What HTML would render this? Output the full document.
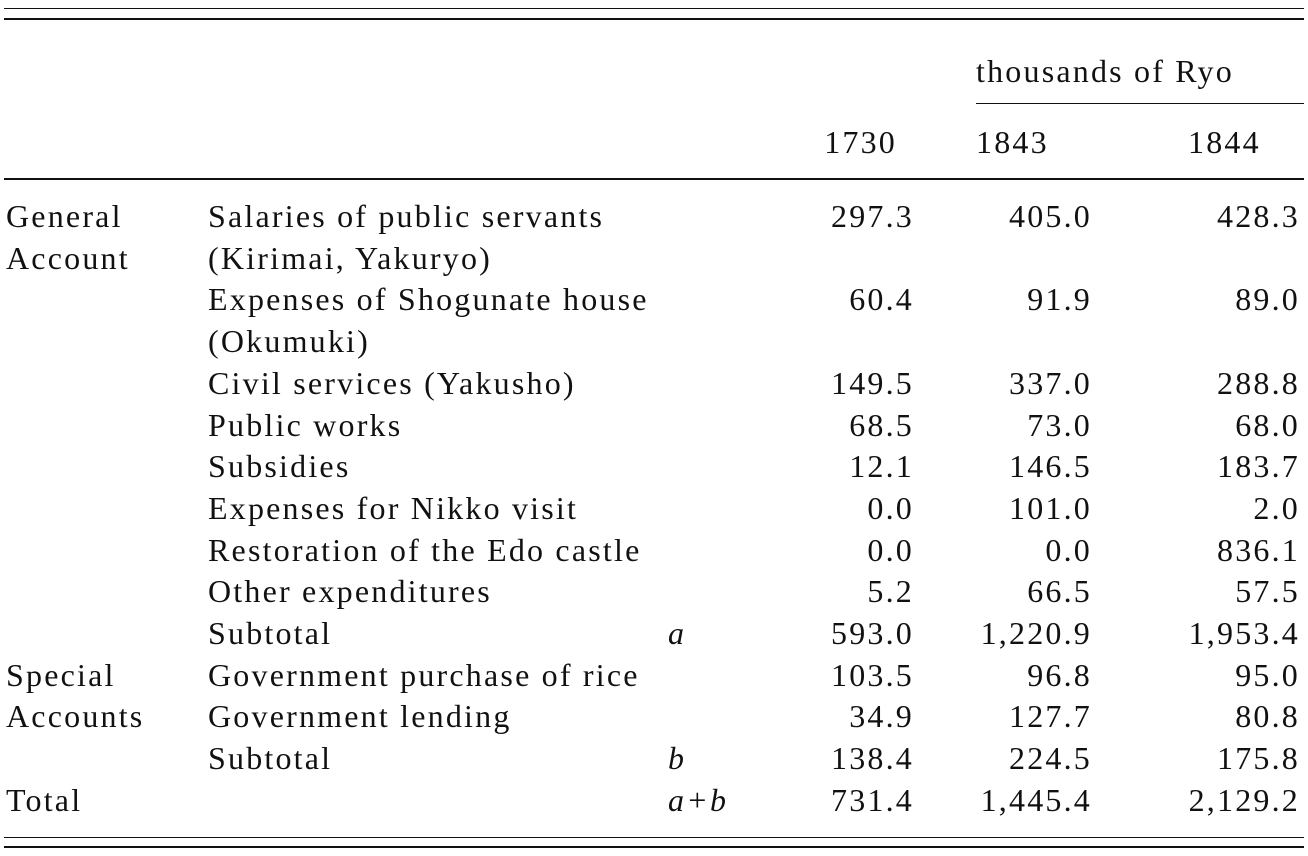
<!DOCTYPE html>
<html><head><meta charset="utf-8"><style>
body{margin:0;width:1308px;height:856px;background:#fff;position:relative;overflow:hidden;font-family:"Liberation Serif",serif;color:#111}
.t{position:absolute;font-size:32px;line-height:42px;height:42px;letter-spacing:2.2px;white-space:nowrap}
.r{text-align:right}
.rule{position:absolute;background:#111}
i{font-style:italic}
</style></head><body>
<div class="rule" style="left:4px;top:8px;width:1300px;height:1px"></div>
<div class="rule" style="left:4px;top:18px;width:1300px;height:2px"></div>
<div class="rule" style="left:976px;top:103px;width:328px;height:1px"></div>
<div class="rule" style="left:4px;top:178px;width:1300px;height:2px"></div>
<div class="rule" style="left:4px;top:837px;width:1300px;height:1px"></div>
<div class="rule" style="left:4px;top:846px;width:1300px;height:2px"></div>
<div class="t" style="left:976px;top:50px">thousands of Ryo</div>
<div class="t r" style="left:647px;width:250px;top:121px">1730</div>
<div class="t" style="left:976px;top:121px">1843</div>
<div class="t" style="left:1188px;top:121px">1844</div>
<div id="body"></div>
<script>
const items=["Salaries of public servants","(Kirimai, Yakuryo)","Expenses of Shogunate house","(Okumuki)","Civil services (Yakusho)","Public works","Subsidies","Expenses for Nikko visit","Restoration of the Edo castle","Other expenditures","Subtotal","Government purchase of rice","Government lending","Subtotal",""];
const groupCol=["General","Account","","","","","","","","","","Special","Accounts","","Total"];
const marks=["","","","","","","","","","","a","","","b","a+b"];
const v1730=["297.3","","60.4","","149.5","68.5","12.1","0.0","0.0","5.2","593.0","103.5","34.9","138.4","731.4"];
const v1843=["405.0","","91.9","","337.0","73.0","146.5","101.0","0.0","66.5","1,220.9","96.8","127.7","224.5","1,445.4"];
const v1844=["428.3","","89.0","","288.8","68.0","183.7","2.0","836.1","57.5","1,953.4","95.0","80.8","175.8","2,129.2"];
const body=document.getElementById('body');
function cell(txt,left,top,right,name,ital){
  const d=document.createElement('div');
  d.className='t'+(right?' r':'');
  
  
  d.style.top=top+'px';
  if(right){d.style.left=(left-250)+'px';d.style.width='250px';}else d.style.left=left+'px';
  if(ital){const e=document.createElement('i');e.textContent=txt;d.appendChild(e);}else d.textContent=txt;
  body.appendChild(d);
}
for(let i=0;i<items.length;i++){
  const top=Math.round(216+i*41.7-21);
  if(groupCol[i])cell(groupCol[i],6,top,false,'group-label');
  if(items[i])cell(items[i],208,top,false,'item-label');
  if(marks[i])cell(marks[i],668,top,false,'formula-mark',true);
  if(v1730[i])cell(v1730[i],914,top,true,'value-1730');
  if(v1843[i])cell(v1843[i],1092,top,true,'value-1843');
  if(v1844[i])cell(v1844[i],1300,top,true,'value-1844');
}
</script>
</body></html>
